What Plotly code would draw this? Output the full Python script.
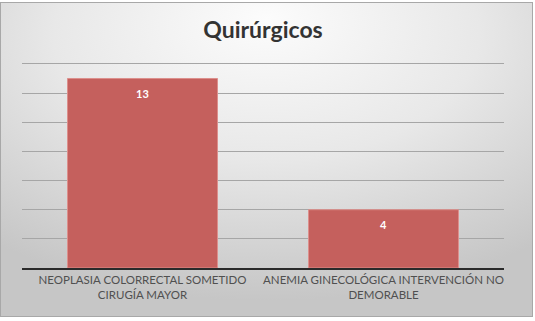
import base64
import plotly.graph_objects as go

categories = ["NEOPLASIA COLORRECTAL SOMETIDO<br>CIRUGÍA MAYOR",
              "ANEMIA GINECOLÓGICA INTERVENCIÓN NO<br>DEMORABLE"]
values = [13, 4]
title_text = "Quirúrgicos"

W, H = 535, 321
L, R, T, B = 22, 31, 61, 53
PW, PH = W - L - R, H - T - B

svg = f'''<svg xmlns="http://www.w3.org/2000/svg" width="{W}" height="{H}" viewBox="0 0 {W} {H}">
<defs><radialGradient id="g" cx="50%" cy="15%" r="80%" fx="50%" fy="5%">
<stop offset="0%" stop-color="#fcfcfc"/><stop offset="50%" stop-color="#e8e8e8"/><stop offset="100%" stop-color="#c6c6c6"/>
</radialGradient></defs>
<rect x="0" y="0" width="{W}" height="{H}" fill="#ffffff"/>
<rect x="0.5" y="2.5" width="532" height="314" fill="url(#g)" stroke="#a8a8a8" stroke-width="1"/>
</svg>'''
src = "data:image/svg+xml;base64," + base64.b64encode(svg.encode()).decode()

fig = go.Figure(go.Bar(
    x=categories, y=values,
    marker=dict(color="#c5605d", line=dict(color="#dc8f8c", width=1)),
    width=150 / (PW / 2),
    hoverinfo="skip",
))

for c, v in zip(categories, values):
    fig.add_annotation(x=c, y=v, text="<b>" + str(v) + "</b>", showarrow=False,
                       yshift=-15, yanchor="middle",
                       font=dict(family="Lato, Open Sans, sans-serif", size=11, color="white"))

fig.update_layout(
    width=W, height=H,
    margin=dict(l=L, r=R, t=T, b=B, autoexpand=False),
    paper_bgcolor="white", plot_bgcolor="rgba(0,0,0,0)",
    images=[dict(source=src, xref="paper", yref="paper", x=-L/PW, y=1 + T/PH,
                 sizex=W/PW, sizey=H/PH, xanchor="left", yanchor="top",
                 sizing="stretch", layer="below")],
    title=dict(text="<b>" + title_text + "</b>", x=0.5, xref="paper", xanchor="center",
               y=1 - 30/H, yref="container", yanchor="middle",
               font=dict(family="Lato, Open Sans, sans-serif", size=23, color="#333333")),
    showlegend=False,
    font=dict(family="Lato, Open Sans, sans-serif"),
)
fig.update_xaxes(showline=True, linecolor="#2a2a2a", linewidth=1.6, ticks="",
                 automargin=False,
                 tickfont=dict(family="Lato, Open Sans, sans-serif", size=11.5, color="#505050"),
                 fixedrange=True)
fig.update_yaxes(range=[0, 14.2], tickvals=[2, 4, 6, 8, 10, 12, 14], showgrid=True,
                 gridcolor="#a6a6a6", gridwidth=1, automargin=False,
                 showticklabels=False, zeroline=False, showline=False, fixedrange=True)

fig.write_html("out.html", config={"displayModeBar": False},
               post_script="document.body.style.margin='0';")
